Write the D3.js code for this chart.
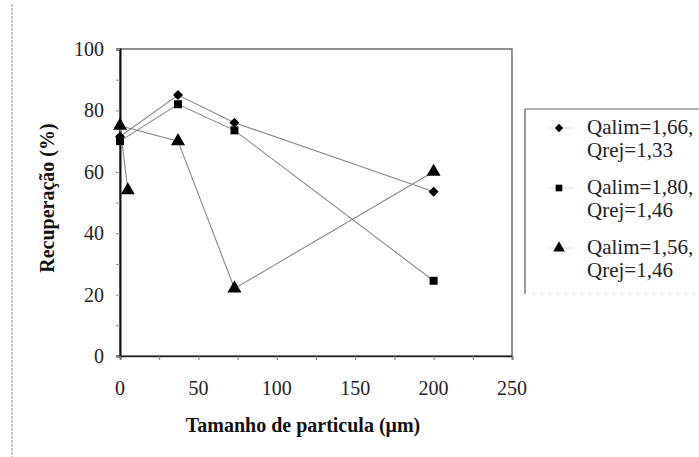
<!DOCTYPE html>
<html><head><meta charset="utf-8">
<script src="https://cdn.jsdelivr.net/npm/d3@7/dist/d3.min.js"></script>
<style>body{margin:0;background:#fff}svg{display:block}</style>
</head><body>
<script>
// Data
const seriesNames = ["Qalim=1,66,|Qrej=1,33", "Qalim=1,80,|Qrej=1,46", "Qalim=1,56,|Qrej=1,46"];
const diamondX = [0, 37, 73, 200];
const diamondY = [71.5, 85, 76, 53.5];
const squareX = [0, 37, 73, 200];
const squareY = [70, 82, 73.5, 24.5];
const triangleX = [5, 0, 37, 73, 200];
const triangleY = [54, 75, 70, 22, 60];
const xTicks = [0, 50, 100, 150, 200, 250];
const yTicks = [0, 20, 40, 60, 80, 100];

const FF = "Times New Roman";
const W = 699, H = 457;
const svg = d3.select("body").append("svg").attr("width", W).attr("height", H)
  .attr("font-family", FF);

// scanned page frame line
svg.append("line").attr("x1", 12).attr("x2", 12).attr("y1", 4).attr("y2", H)
  .attr("stroke", "#aaa").attr("stroke-width", 1.2).attr("stroke-dasharray", "3,1");

const m = {l: 120, r: 512, t: 49, b: 356};
const x = d3.scaleLinear().domain([0, 250]).range([m.l, m.r]);
const y = d3.scaleLinear().domain([0, 100]).range([m.b, m.t]);

// plot box
svg.append("rect").attr("x", m.l).attr("y", m.t).attr("width", m.r - m.l).attr("height", m.b - m.t)
  .attr("fill", "none").attr("stroke", "#555").attr("stroke-width", 1.3);

// axes (tick marks from d3 axes, labels drawn from the same scales)
const yAxis = svg.append("g").attr("transform", `translate(${m.l},0)`)
  .call(d3.axisLeft(y).tickValues(d3.range(0, 101, 10)).tickSize(4).tickFormat(""));
yAxis.select(".domain").attr("stroke", "#111").attr("stroke-width", 2);
yAxis.selectAll(".tick line").attr("stroke", "#888");
svg.append("g").selectAll("text").data(yTicks).enter().append("text")
  .attr("x", m.l - 16).attr("y", d => y(d)).attr("dy", "0.35em").attr("text-anchor", "end")
  .attr("font-family", FF).attr("font-size", 20).attr("fill", "#222").text(d => d);

const xAxis = svg.append("g").attr("transform", `translate(0,${m.b})`)
  .call(d3.axisBottom(x).tickValues(d3.range(0, 251, 25)).tickSize(4).tickFormat(""));
xAxis.select(".domain").attr("stroke", "#222").attr("stroke-width", 1.6);
xAxis.selectAll(".tick line").attr("stroke", "#777");
svg.append("g").selectAll("text").data(xTicks).enter().append("text")
  .attr("x", d => x(d)).attr("y", m.b + 39).attr("text-anchor", "middle")
  .attr("font-family", FF).attr("font-size", 20).attr("fill", "#222").text(d => d);

// axis titles
svg.append("text").attr("x", 303).attr("y", 432).attr("text-anchor", "middle")
  .attr("font-family", FF).attr("font-weight", "bold").attr("font-size", 20).attr("fill", "#111")
  .text("Tamanho de particula (μm)");
svg.append("text").attr("transform", "translate(54,198) rotate(-90)").attr("text-anchor", "middle")
  .attr("font-family", FF).attr("font-weight", "bold").attr("font-size", 20).attr("fill", "#111")
  .text("Recuperação (%)");

const series = [
  {xs: diamondX, ys: diamondY, sym: d3.symbolSquare, size: 50, rot: 45},
  {xs: squareX, ys: squareY, sym: d3.symbolSquare, size: 64, rot: 0},
  {xs: triangleX, ys: triangleY, sym: d3.symbolTriangle, size: 85, rot: 0}
];
const line = d3.line().x(d => x(d[0])).y(d => y(d[1]));
series.forEach(s => {
  const pts = s.xs.map((v, i) => [v, s.ys[i]]);
  svg.append("path").attr("d", line(pts)).attr("fill", "none").attr("stroke", "#888").attr("stroke-width", 1.1);
});
series.forEach(s => {
  const pts = s.xs.map((v, i) => [v, s.ys[i]]);
  svg.selectAll(null).data(pts).enter().append("path")
    .attr("transform", d => `translate(${x(d[0])},${y(d[1])}) rotate(${s.rot})`)
    .attr("d", d3.symbol().type(s.sym).size(s.size)).attr("fill", "#000");
});

// legend
const lg = svg.append("g");
lg.append("line").attr("x1", 525).attr("x2", 525).attr("y1", 109).attr("y2", 294).attr("stroke", "#555").attr("stroke-width", 1.2);
lg.append("line").attr("x1", 525).attr("x2", 699).attr("y1", 109).attr("y2", 109).attr("stroke", "#666").attr("stroke-width", 1.2);
lg.append("line").attr("x1", 525).attr("x2", 699).attr("y1", 294).attr("y2", 294).attr("stroke", "#ccc").attr("stroke-dasharray", "2,6");
seriesNames.forEach((name, i) => {
  const cy = 128 + i * 60;
  lg.append("line").attr("x1", 548).attr("x2", 574).attr("y1", cy).attr("y2", cy).attr("stroke", "#ddd").attr("stroke-width", 1);
  lg.append("path").attr("transform", `translate(559,${cy}) rotate(${series[i].rot})`)
    .attr("d", d3.symbol().type(series[i].sym).size(series[i].size * 0.7)).attr("fill", "#000");
  const parts = name.split("|");
  parts.forEach((p, j) => {
    lg.append("text").attr("x", 587).attr("y", cy + 6 + j * 23)
      .attr("font-family", FF).attr("font-size", 21).attr("fill", "#222").text(p);
  });
});
</script>
</body></html>
